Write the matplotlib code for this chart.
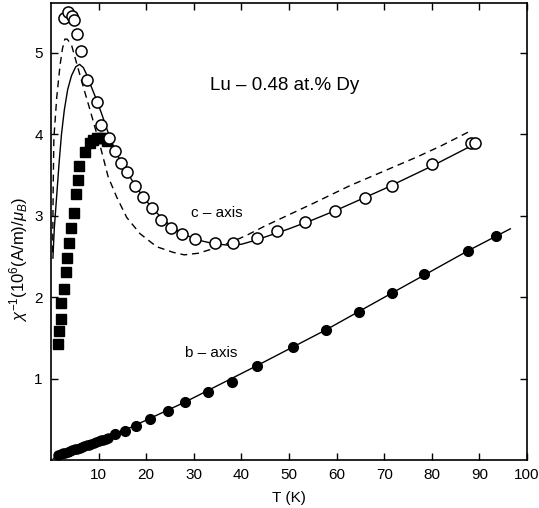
import numpy as np
import matplotlib
matplotlib.use('Agg')
import matplotlib.pyplot as plt

plt.rcParams['font.family'] = ['Liberation Sans', 'DejaVu Sans']
plt.rcParams['mathtext.fontset'] = 'custom'
plt.rcParams['mathtext.rm'] = 'Liberation Sans'
plt.rcParams['mathtext.it'] = 'Liberation Sans:italic'

# c-axis, open circles
t_c = [2.7, 3.5, 4.4, 4.8, 5.5, 6.2, 7.5, 9.6, 10.6, 12.2, 13.4, 14.8, 15.9, 17.6,
       19.4, 21.3, 23.2, 25.3, 27.6, 30.2, 34.4, 38.3, 43.3, 47.5, 53.3, 59.6,
       66.0, 71.6, 80.1, 88.2, 89.0]
chi_c = [5.43, 5.50, 5.46, 5.40, 5.23, 5.03, 4.67, 4.40, 4.11, 3.95, 3.80, 3.65, 3.54, 3.37,
         3.23, 3.09, 2.95, 2.85, 2.78, 2.71, 2.66, 2.66, 2.73, 2.81, 2.92, 3.06,
         3.22, 3.37, 3.63, 3.89, 3.89]

# filled squares
t_sq = [1.5, 1.7, 2.0, 2.2, 2.8, 3.1, 3.4, 3.8, 4.2, 4.8, 5.2, 5.7, 5.9, 7.1,
        8.2, 8.8, 9.6, 10.3, 11.0, 11.7]
chi_sq = [1.42, 1.59, 1.73, 1.93, 2.10, 2.31, 2.48, 2.67, 2.85, 3.03, 3.27, 3.44, 3.61, 3.78,
          3.89, 3.93, 3.95, 3.95, 3.95, 3.92]

# b-axis, filled circles
t_b_low = [1.5, 2.0, 2.5, 3.0, 3.5, 4.0, 4.5, 5.0, 5.5, 6.0, 6.5, 7.0, 7.5, 8.0,
           8.5, 9.0, 9.5, 10.0, 10.5, 11.0, 11.5, 12.0]
chi_b_low = [0.06, 0.07, 0.08, 0.09, 0.10, 0.11, 0.12, 0.13, 0.14, 0.15, 0.16, 0.17, 0.18, 0.19,
             0.20, 0.21, 0.22, 0.23, 0.24, 0.25, 0.26, 0.27]
t_b = [13.4, 15.5, 17.8, 20.8, 24.6, 28.1, 33.0, 38.0, 43.3, 50.8, 57.8, 64.7,
       71.6, 78.3, 87.6, 93.4]
chi_b = [0.32, 0.36, 0.42, 0.50, 0.60, 0.71, 0.83, 0.96, 1.16, 1.39, 1.60, 1.82,
         2.05, 2.29, 2.57, 2.75]

# fit curves
t_fit = [0.4, 0.7, 1.2, 1.7, 2.2, 2.8, 3.5, 4.3, 5.2, 6.0, 6.8, 7.6, 8.5, 9.6, 10.6,
         11.6, 12.7, 14.0, 15.5, 17.5, 19.5, 21.5, 23.5, 25.5, 28, 31, 34, 37, 40,
         43, 46, 50, 55, 60, 65, 70, 75, 80, 85, 89]
chi_fit = [2.48, 2.85, 3.25, 3.65, 4.00, 4.30, 4.55, 4.72, 4.83, 4.86, 4.82, 4.72, 4.58, 4.42, 4.26,
           4.09, 3.91, 3.74, 3.58, 3.39, 3.22, 3.08, 2.96, 2.86, 2.77, 2.70, 2.66, 2.64, 2.65,
           2.70, 2.76, 2.84, 2.95, 3.07, 3.20, 3.33, 3.47, 3.61, 3.76, 3.88]

t_dash = [0.35, 0.45, 0.6, 1.2, 1.9, 2.4, 2.9, 3.4, 4.3, 5.4, 6.8, 8.2, 9.6, 10.5, 12.0,
          13.8, 15.9, 18.7, 22.2, 25.7, 28, 31, 34.8, 38, 41.1, 44.8, 48.8, 55, 62.8,
          70, 76.8, 82, 88.4]
chi_dash = [2.55, 3.30, 3.95, 4.45, 4.85, 5.05, 5.17, 5.17, 5.10, 4.87, 4.58, 4.30, 4.01, 3.82, 3.48,
            3.23, 2.98, 2.78, 2.62, 2.55, 2.52, 2.54, 2.61, 2.68, 2.76, 2.87, 2.98, 3.15, 3.37,
            3.55, 3.72, 3.86, 4.05]

t_bline = [0.5, 13.4, 28.1, 43.3, 57.8, 71.6, 87.6, 96.5]
chi_bline = [0.02, 0.31, 0.71, 1.16, 1.60, 2.05, 2.57, 2.84]

fig = plt.figure(figsize=(5.39, 5.08), dpi=100)
ax = fig.add_axes([51/539, 48/508, 476/539, 456.7/508])

ax.plot(t_fit, chi_fit, color='k', lw=1.0)
ax.plot(t_dash, chi_dash, color='k', lw=1.0, dashes=(5, 3.5))
ax.plot(t_bline, chi_bline, color='k', lw=1.0)

ax.plot(t_b_low, chi_b_low, 'o', color='k', ms=6.5)
ax.plot(t_b, chi_b, 'o', color='k', ms=7)
ax.plot(t_sq, chi_sq, 's', color='k', ms=6.5)
ax.plot(t_c, chi_c, 'o', mfc='white', mec='k', mew=1.1, ms=8)

ax.set_xlim(0, 100)
ax.set_ylim(0, 5.61)
ax.set_xticks(range(10, 101, 10))
ax.set_yticks([1, 2, 3, 4, 5])
ax.tick_params(direction='in', length=5, width=1, top=True, right=True,
               labelsize=11, pad=6)
for s in ax.spines.values():
    s.set_linewidth(1.2)

ax.set_xlabel('T (K)', fontsize=11, labelpad=6)
ax.set_ylabel(r'$\chi^{-1}$(10$^6$(A/m)/$\mu_B$)', fontsize=12)
ax.yaxis.set_label_coords(-0.045, 0.44)

ax.text(49, 4.6, 'Lu – 0.48 at.% Dy', fontsize=13.5, ha='center', va='center')
ax.text(34.9, 3.03, 'c – axis', fontsize=11, ha='center', va='center')
ax.text(33.6, 1.32, 'b – axis', fontsize=11, ha='center', va='center')

fig.savefig('out.png', dpi=100)
